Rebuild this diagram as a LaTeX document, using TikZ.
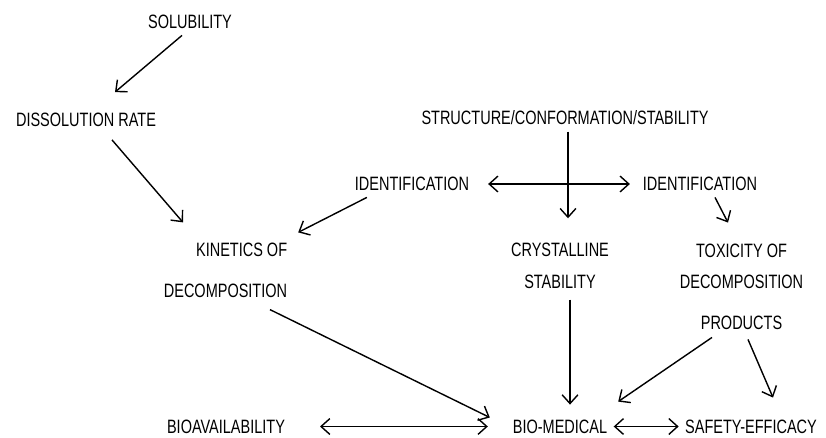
\documentclass[tikz,border=0pt]{standalone}
\usepackage{fontspec}
\setmainfont{Liberation Sans}[FakeStretch=0.75]
\usepackage{tikz}
\usetikzlibrary{arrows.meta}

\begin{document}
\begin{tikzpicture}[->,
				>={Straight Barb[length=5pt,width=9pt]},
				thick,
				every node/.style={font=\fontsize{11}{13}\selectfont, align=center}]
				\useasboundingbox (0,0) rectangle (16.52,8.74);
				\node at (3.80,8.30) (sol) {SOLUBILITY};
				\node at (1.72,6.34) (diss) {DISSOLUTION RATE};
				\node at (11.30,6.38) (struct) {STRUCTURE/CONFORMATION/STABILITY};
				\node at (8.24,5.06) (idl) {IDENTIFICATION};
				\node at (14.00,5.06) (idr) {IDENTIFICATION};
				\node at (4.51,3.33) (kin) [align=right] {KINETICS OF\\[10pt]DECOMPOSITION};
				\node at (11.20,3.42) (cryst) {CRYSTALLINE\\[5pt]STABILITY};
				\node at (14.83,3.01) (tox) {TOXICITY OF\\[5pt]DECOMPOSITION\\[10pt]PRODUCTS};
				\node at (4.52,0.21) (bioav) {BIOAVAILABILITY};
				\node at (11.20,0.21) (biomed) {BIO-MEDICAL};
				\node at (15.02,0.21) (safety) {SAFETY-EFFICACY};
				\draw ([xshift=-0.16cm]sol.south) -- ([xshift=0.58cm,yshift=0.29cm]diss.north);
				\draw ([xshift=0.52cm,yshift=-0.13cm]diss.south) -- ([xshift=-0.85cm,yshift=0.29cm]kin.north);
				\draw ([xshift=0.37cm]idl.south west) -- ([xshift=0.09cm,yshift=0.09cm]kin.north east);
				\draw ([xshift=0.06cm]struct.south) -- ([xshift=0.16cm,yshift=0.37cm]cryst.north);
				\draw [<->] ([xshift=0.25cm]idl.east) -- ([xshift=-0.13cm]idr.west);
				\draw ([xshift=0.30cm]idr.south) -- ([xshift=-0.27cm,yshift=0.29cm]tox.north);
				\draw ([xshift=0.20cm,yshift=-0.09cm]cryst.south) -- ([xshift=0.20cm,yshift=0.17cm]biomed.north);
				\draw ([xshift=0.89cm,yshift=-0.11cm]kin.south) -- ([xshift=-0.33cm,yshift=0.18cm]biomed.west);
				\draw [<->] ([xshift=0.57cm]bioav.east) -- ([xshift=-0.37cm]biomed.west);
				\draw [<->] (biomed.east) -- (safety.west);
				\draw ([xshift=-0.59cm,yshift=-0.03cm]tox.south) -- ([xshift=0.09cm,yshift=0.23cm]biomed.north east);
				\draw ([xshift=0.13cm,yshift=-0.07cm]tox.south) -- ([xshift=0.44cm,yshift=0.31cm]safety.north);
			\end{tikzpicture}
\end{document}
